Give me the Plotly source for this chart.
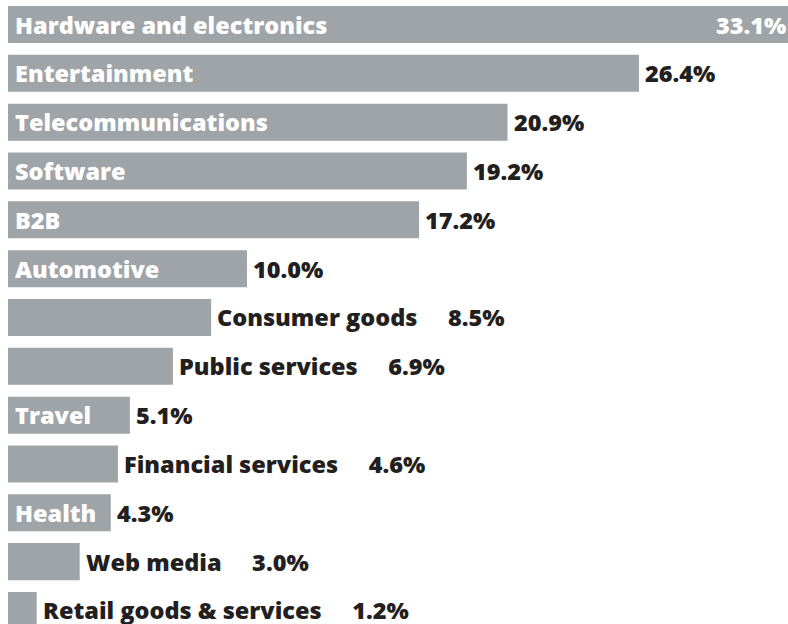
import plotly.graph_objects as go

# Share of total by sector (%)
categories = [
    "Hardware and electronics", "Entertainment", "Telecommunications", "Software",
    "B2B", "Automotive", "Consumer goods", "Public services", "Travel",
    "Financial services", "Health", "Web media", "Retail goods & services",
]
shares = [33.1, 26.4, 20.9, 19.2, 17.2, 10.0, 8.5, 6.9, 5.1, 4.6, 4.3, 3.0, 1.2]

BAR_COLOR = "#9fa4a9"
TEXT_DARK = "#231f20"
FONT = "Open Sans"
FONT_SIZE = 23.5
FONT_WEIGHT = 800

W, H = 788, 624
LEFT = 8
PX_PER_UNIT = 23.9           # horizontal scale, pixels per percentage point
ROW_PITCH = 48.83            # vertical distance between bars, pixels
X_MAX = (W - LEFT) / PX_PER_UNIT
Y_TOP = -24.5 / ROW_PITCH
Y_BOTTOM = (H - 24.5) / ROW_PITCH


def label_fits(text, value):
    """Rough check whether a bold label fits inside its bar."""
    est_width = len(text) * 14.4 + 12
    return est_width <= min(value, X_MAX) * PX_PER_UNIT


def font(color):
    return dict(family=FONT, size=FONT_SIZE, color=color, weight=FONT_WEIGHT)


fig = go.Figure(
    go.Bar(
        x=shares,
        y=categories,
        orientation="h",
        marker=dict(color=BAR_COLOR, line=dict(width=0)),
        hoverinfo="skip",
    )
)

annotations = []
for name, val in zip(categories, shares):
    value_text = f"{val:.1f}%"
    base = dict(y=name, yref="y", xref="x", showarrow=False, yanchor="middle",
                font=font(TEXT_DARK))
    if label_fits(name, val):
        annotations.append(dict(base, x=0, xanchor="left", xshift=5, text=name,
                                font=font("white")))
        if val > X_MAX:
            annotations.append(dict(base, x=X_MAX, xanchor="right", xshift=0,
                                    text=value_text, font=font("white")))
        else:
            annotations.append(dict(base, x=val, xanchor="left", xshift=4, text=value_text))
    else:
        gap = "\u00a0" * 5
        annotations.append(dict(base, x=val, xanchor="left", xshift=4,
                                text=f"{name}{gap}{value_text}"))

fig.update_layout(
    width=W, height=H,
    margin=dict(l=LEFT, r=0, t=0, b=0),
    paper_bgcolor="white", plot_bgcolor="white",
    bargap=0.242,
    showlegend=False,
    font=font(TEXT_DARK),
    xaxis=dict(range=[0, X_MAX], visible=False, fixedrange=True),
    yaxis=dict(type="category", range=[Y_BOTTOM, Y_TOP], visible=False, fixedrange=True),
    annotations=annotations,
)

fig.write_html("out.html", config={"displayModeBar": False})
